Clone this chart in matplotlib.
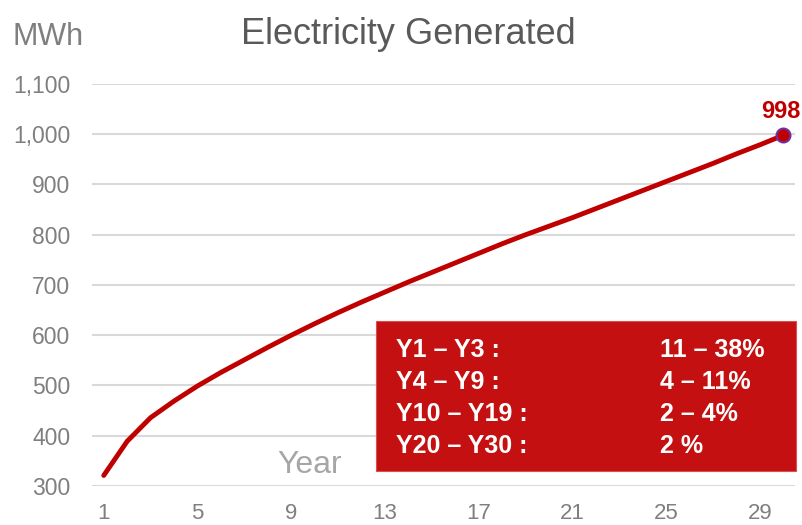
import matplotlib.pyplot as plt
from matplotlib.patches import Rectangle

plt.rcParams['font.family'] = ['Liberation Sans', 'DejaVu Sans']

years = list(range(1, 31))
mwh = [321, 389, 436, 469, 499, 526, 551, 576, 600, 623,
       645, 666, 686, 706, 725, 744, 763, 782, 800, 817,
       834, 852, 870, 888, 906, 924, 942, 961, 979, 998]
xticks = [1, 5, 9, 13, 17, 21, 25, 29]
yticks = [300, 400, 500, 600, 700, 800, 900, 1000, 1100]
box_left = ['Y1 – Y3 :', 'Y4 – Y9 :', 'Y10 – Y19 :', 'Y20 – Y30 :']
box_right = ['11 – 38%', '4 – 11%', '2 – 4%', '2 %']

fig = plt.figure(figsize=(8.03, 5.25), dpi=100)
ax = fig.add_axes([0.1146, 0.0743, 0.8755, 0.7657])

ax.plot(years, mwh, color='#C00000', linewidth=3.5, solid_capstyle='round', zorder=3)
ax.plot(years[-1], mwh[-1], 'o', markersize=10, markerfacecolor='#C00000',
        markeredgecolor='#7030A0', markeredgewidth=1.5, zorder=4)
ax.annotate(str(mwh[-1]), (years[-1], mwh[-1]), xytext=(-1.5, 9), textcoords='offset points',
            ha='center', va='bottom', fontsize=17, fontweight='bold', color='#C00000')

ax.set_xlim(0.5, 30.5)
ax.set_ylim(300, 1100)
ax.set_xticks(xticks)
ax.set_yticks(yticks)
ax.set_yticklabels([f'{v:,}' for v in yticks])
ax.tick_params(length=0, labelsize=16.5, labelcolor='#7f7f7f')
ax.tick_params(axis='x', pad=12, labelsize=16)
ax.tick_params(axis='y', pad=15.5)
ax.grid(axis='y', color='#d9d9d9', linewidth=1.5)
ax.set_axisbelow(True)
for s in ax.spines.values():
    s.set_visible(False)

fig.text(0.509, 0.916, 'Electricity Generated', ha='center', va='baseline',
         fontsize=26, color='#595959')
fig.text(0.015, 0.914, 'MWh', ha='left', va='baseline', fontsize=22, color='#7f7f7f')
fig.text(0.345, 0.099, 'Year', ha='left', va='baseline', fontsize=23, color='#a6a6a6')

# red annotation box
bx0, by0 = 375.7 / 803, 1 - 471 / 525
bw, bh = (796 - 375.7) / 803, (471 - 321) / 525
fig.patches.append(Rectangle((bx0, by0), bw, bh, transform=fig.transFigure,
                             facecolor='#C41010', edgecolor='#d85050', linewidth=0.8, zorder=5))
rows_y = [357, 389, 421, 453]
for lt, rt, yb in zip(box_left, box_right, rows_y):
    fig.text(396.5 / 803, 1 - yb / 525, lt, ha='left', va='baseline', fontsize=18,
             fontweight='bold', color='white', zorder=6)
    fig.text(660 / 803, 1 - yb / 525, rt, ha='left', va='baseline', fontsize=18,
             fontweight='bold', color='white', zorder=6)

fig.savefig('out.png', dpi=100)
